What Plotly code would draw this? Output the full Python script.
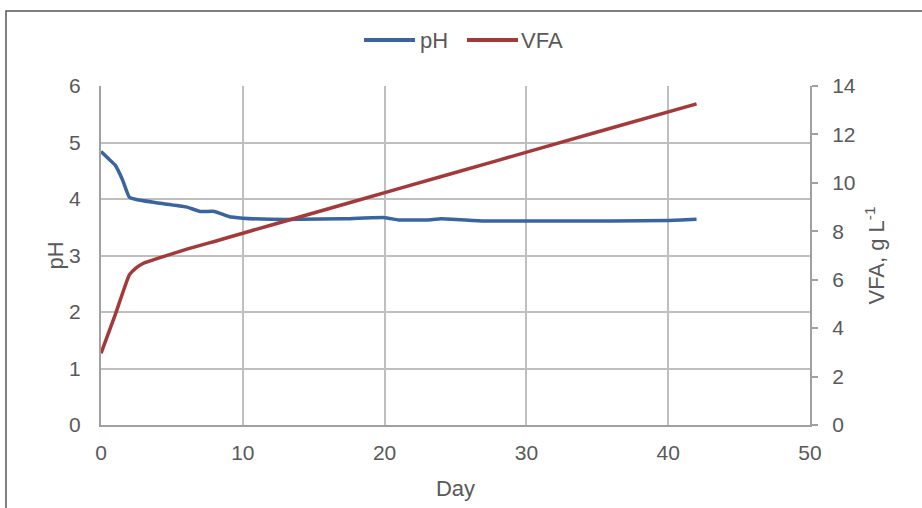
import plotly.graph_objects as go

ph_day = [0, 0.5, 1, 1.5, 2, 2.5, 4, 6, 7, 8, 9, 10, 12, 14, 17, 20, 21, 23, 24, 27, 30, 36, 40, 42]
ph_val = [4.84, 4.72, 4.60, 4.35, 4.03, 3.99, 3.93, 3.86, 3.78, 3.78, 3.69, 3.66, 3.64, 3.64, 3.65, 3.67, 3.63, 3.63, 3.65, 3.61, 3.61, 3.61, 3.62, 3.64]

vfa_day = [0, 1, 2, 2.5, 3, 4, 5, 6, 7, 8, 10, 14, 21, 28, 35, 42]
vfa_val = [2.96, 4.55, 6.2, 6.5, 6.68, 6.88, 7.07, 7.25, 7.42, 7.58, 7.92, 8.59, 9.76, 10.93, 12.1, 13.26]

series_names = ["pH", "VFA"]

blue = "#3A64A0"
red = "#A23A3A"
grid = "#BFBFBF"
axis_c = "#A0A0A0"
txt = "#595959"
font = "Liberation Sans, Arial, sans-serif"

# plot area in pixels: x 101..810, y 86..425
def px(x):
    return (x - 101) / 709

def py(y):
    return (425 - y) / 339

fig = go.Figure()
fig.add_trace(go.Scatter(x=ph_day, y=ph_val, name=series_names[0], mode="lines",
                         line=dict(color=blue, width=3.5, shape="spline", smoothing=0.4), yaxis="y"))
fig.add_trace(go.Scatter(x=vfa_day, y=vfa_val, name=series_names[1], mode="lines",
                         line=dict(color=red, width=3.5, shape="spline", smoothing=0.4), yaxis="y2"))

legend_shapes = [
    dict(type="line", xref="paper", yref="paper", x0=px(364), x1=px(415), y0=py(40), y1=py(40),
         line=dict(color=blue, width=4)),
    dict(type="line", xref="paper", yref="paper", x0=px(467), x1=px(518), y0=py(40), y1=py(40),
         line=dict(color=red, width=4)),
]
legend_ann = [
    dict(text=series_names[0], xref="paper", yref="paper", x=px(418), y=py(40), xanchor="left",
         yanchor="middle", showarrow=False, font=dict(size=22, color=txt)),
    dict(text=series_names[1], xref="paper", yref="paper", x=px(519), y=py(40), xanchor="left",
         yanchor="middle", showarrow=False, font=dict(size=22, color=txt)),
]

fig.update_layout(
    width=922, height=508,
    margin=dict(l=101, r=112, t=86, b=83, autoexpand=False),
    paper_bgcolor="white", plot_bgcolor="white",
    font=dict(family=font, size=20, color=txt),
    showlegend=False,
    xaxis=dict(range=[0, 50], dtick=10, showgrid=True, gridcolor=grid, gridwidth=2,
               showline=True, linecolor=axis_c, linewidth=2, ticks="outside", ticklen=8,
               tickcolor="rgba(0,0,0,0)", zeroline=False,
               title=dict(text="Day", font=dict(size=22, color=txt), standoff=17),
               tickfont=dict(size=21, color=txt)),
    yaxis=dict(range=[0, 6], dtick=1, showgrid=True, gridcolor=grid, gridwidth=2,
               showline=True, linecolor=axis_c, linewidth=2, ticks="outside", ticklen=14,
               tickcolor="rgba(0,0,0,0)", zeroline=False,
               tickfont=dict(size=21, color=txt)),
    yaxis2=dict(range=[0, 14], dtick=2, overlaying="y", side="right", showgrid=False,
                showline=True, linecolor=axis_c, linewidth=2, ticks="outside", ticklen=6,
                tickcolor=axis_c, tickwidth=2, zeroline=False, ticklabelstandoff=10,
                title=dict(text="VFA, g L<sup>-1</sup>", font=dict(size=22, color=txt), standoff=14),
                tickfont=dict(size=21, color=txt)),
    annotations=[dict(text="pH", xref="paper", yref="paper", x=px(55), y=0.5,
                      xanchor="center", yanchor="middle", textangle=-90, showarrow=False,
                      font=dict(size=22, color=txt))] + legend_ann,
    shapes=[dict(type="rect", xref="paper", yref="paper",
                 x0=px(6), x1=1.4, y0=-0.5, y1=py(11),
                 line=dict(color="#555555", width=1.5), layer="below")] + legend_shapes,
)

fig.write_html("out.html")
